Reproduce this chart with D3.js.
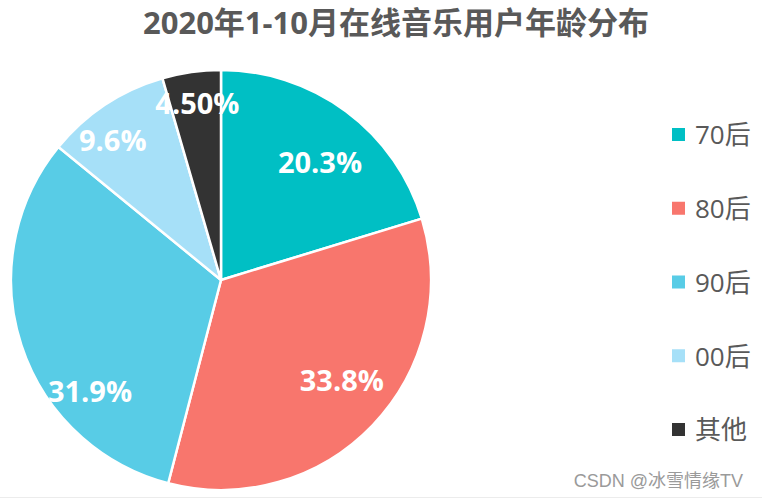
<!DOCTYPE html>
<html>
<head>
<meta charset="utf-8">
<script src="https://cdn.jsdelivr.net/npm/d3@7/dist/d3.min.js"></script>
<style>
  body { margin: 0; background: #fff; }
  text { font-family: "Open Sans", "Noto Sans CJK SC", sans-serif; }
</style>
</head>
<body>
<svg id="mainsvg" width="762" height="500"></svg>
<script>
  // data
  const categories = ['70后', '80后', '90后', '00后', '其他'];
  const shares = [20.3, 33.8, 31.9, 9.6, 4.5];
  const labels = ['20.3%', '33.8%', '31.9%', '9.6%', '4.50%'];

  const colors = ['#00BFC4', '#F8766D', '#58CCE6', '#A6E0F8', '#333333'];
  // label placement tweaks (angle nudge in degrees, radius as fraction of R)
  const labelNudge = [[3.7, 0.73], [-3.9, 0.75], [-22.4, 0.82], [-4.4, 0.84], [0.5, 0.85]];

  const svg = d3.select('#mainsvg');
  const cx = 221, cy = 280, R = 210;

  svg.append('text')
    .attr('x', 396).attr('y', 34)
    .attr('text-anchor', 'middle')
    .attr('font-size', 31).attr('font-weight', 'bold')
    .attr('fill', '#595959')
    .text('2020年1-10月在线音乐用户年龄分布');

  const rows = categories.map((c, i) => ({ name: c, value: shares[i], label: labels[i], i: i }));

  const pie = d3.pie().value(d => d.value).sort(null);
  const arc = d3.arc().innerRadius(0).outerRadius(R);
  const arcs = pie(rows);

  const g = svg.append('g').attr('transform', `translate(${cx},${cy})`);

  g.selectAll('path.slice').data(arcs).join('path')
    .attr('class', 'slice')
    .attr('d', arc)
    .attr('fill', d => colors[d.data.i])
    .attr('stroke', '#fff')
    .attr('stroke-width', 2.5)
    .attr('stroke-linejoin', 'round');

  g.selectAll('text.lbl').data(arcs).join('text')
    .attr('class', 'lbl')
    .attr('transform', d => {
      const nd = labelNudge[d.data.i];
      const a = (d.startAngle + d.endAngle) / 2 + nd[0] * Math.PI / 180;
      const r = R * nd[1];
      return `translate(${r * Math.sin(a)},${-r * Math.cos(a)})`;
    })
    .attr('text-anchor', 'middle')
    .attr('dy', '0.36em')
    .attr('font-size', 29).attr('font-weight', 'bold')
    .attr('fill', '#fff')
    .text(d => d.data.label);

  // legend
  const ly = d3.scalePoint().domain(categories).range([135, 430]);
  const leg = svg.append('g').selectAll('g').data(rows).join('g')
    .attr('transform', d => `translate(672,${ly(d.name)})`);
  leg.append('rect')
    .attr('x', 0).attr('y', -7).attr('width', 13).attr('height', 13)
    .attr('fill', d => colors[d.i]);
  leg.append('text')
    .attr('x', 23).attr('dy', '0.36em')
    .attr('font-size', 26)
    .attr('fill', '#595959')
    .text(d => d.name);

  // watermark + bottom edge
  svg.append('line')
    .attr('x1', 0).attr('x2', 762).attr('y1', 497.5).attr('y2', 497.5)
    .attr('stroke', '#ececec');
  svg.append('text')
    .attr('x', 743).attr('y', 487)
    .attr('text-anchor', 'end')
    .attr('font-size', 18)
    .attr('fill', '#9a9a9a')
    .style('font-family', '"Liberation Sans", "Noto Sans CJK SC", sans-serif')
    .text('CSDN @冰雪情缘TV');
</script>
</body>
</html>
